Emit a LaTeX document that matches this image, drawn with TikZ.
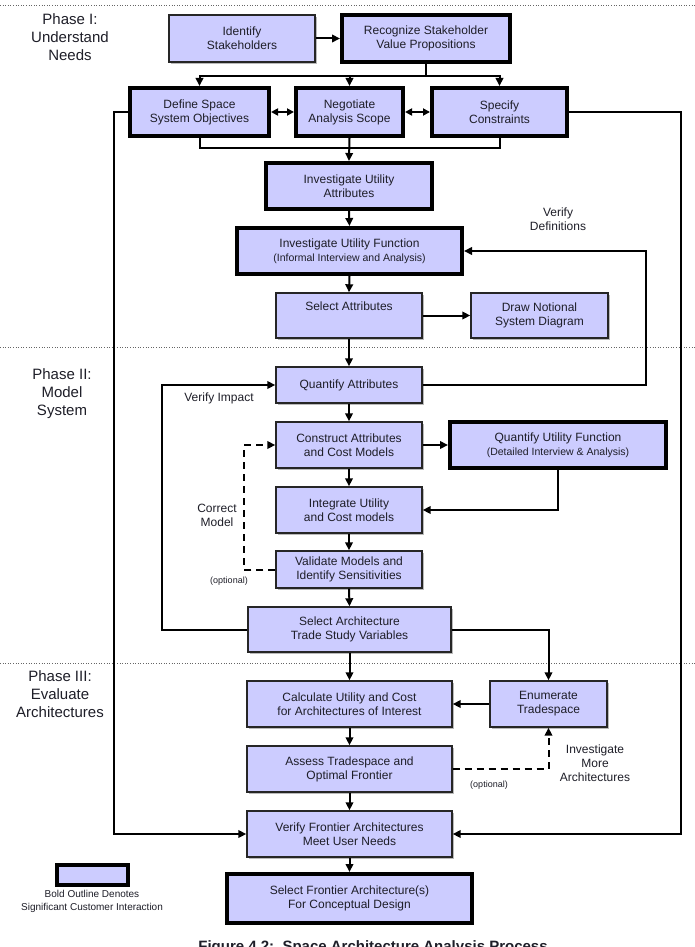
\documentclass[tikz,border=0pt]{standalone}
\usepackage{fontspec}
\setmainfont{Liberation Sans}
\usetikzlibrary{arrows.meta,shadows}
\definecolor{boxfill}{RGB}{204,204,255}
\definecolor{txtcol}{RGB}{30,30,40}
\tikzset{
  box/.style={draw=black!85, line width=1.4pt, fill=boxfill, align=center, text=txtcol,
    font=\fontsize{12}{14}\selectfont, inner sep=0pt,
    drop shadow={shadow xshift=1.8pt, shadow yshift=-1.8pt, fill=black!45, opacity=0.6}},
  bbox/.style={box, draw=black, line width=4pt},
  conn/.style={line width=2pt, -{Triangle[length=8pt,width=7.5pt]}},
  dconn/.style={line width=2pt, {Triangle[length=7pt,width=7pt]}-{Triangle[length=7pt,width=7pt]}},
  plain/.style={line width=2pt},
  dashline/.style={dash pattern=on 7pt off 5pt},
  lbl/.style={align=center, text=txtcol, font=\fontsize{12}{14}\selectfont, inner sep=0pt},
  phase/.style={align=center, text=txtcol, font=\fontsize{15}{18}\selectfont, inner sep=0pt},
  small/.style={align=center, text=txtcol, font=\fontsize{9}{11}\selectfont, inner sep=0pt},
  sep/.style={black!60, line width=0.6pt, dotted},
}
\newcommand{\sub}[1]{{\fontsize{10.5}{12}\selectfont #1}}
\begin{document}
\begin{tikzpicture}[x=1pt,y=-1pt]
\useasboundingbox (0,0) rectangle (695,947);
\fill[white] (0,0) rectangle (695,947);

% separators
\coordinate (s1a) at (0,5); \coordinate (s1b) at (695,5);
\coordinate (s2a) at (0,347); \coordinate (s2b) at (695,347);
\coordinate (s3a) at (0,663); \coordinate (s3b) at (695,663);
\draw[sep] (s1a) -- (s1b);
\draw[sep] (s2a) -- (s2b);
\draw[sep] (s3a) -- (s3b);

% phase labels
\node[phase] (ph1) at (70,37) {Phase I:\\Understand\\Needs};
\node[phase] (ph2) at (62,394) {Phase II:\\Model\\System};
\node[phase] (ph3) at (60,694) {Phase III:\\Evaluate\\Architectures};

% boxes
\node[box, minimum width=146pt, minimum height=47pt] (ident) at (242,38.5) {Identify\\Stakeholders};
\node[bbox, minimum width=168pt, minimum height=47pt] (recog) at (426,38.5) {Recognize Stakeholder\\Value Propositions};
\node[bbox, minimum width=139pt, minimum height=48pt] (define) at (199.5,112) {Define Space\\System Objectives};
\node[bbox, minimum width=107pt, minimum height=48pt] (negot) at (349.5,112) {Negotiate\\Analysis Scope};
\node[bbox, minimum width=135pt, minimum height=48pt] (specify) at (499.5,112) {Specify\\Constraints};
\node[bbox, minimum width=166pt, minimum height=46pt] (iua) at (349,186) {Investigate Utility\\Attributes};
\node[bbox, minimum width=225pt, minimum height=46pt] (iuf) at (349.5,251) {Investigate Utility Function\\\sub{(Informal Interview and Analysis)}};
\node[box, minimum width=146pt, minimum height=45pt] (selattr) at (349,315.5) {};
\node[lbl] (selattrt) at (349,306) {Select Attributes};
\node[box, minimum width=137pt, minimum height=45pt] (drawn) at (539.5,315.5) {Draw Notional\\System Diagram};
\node[box, minimum width=146pt, minimum height=36pt] (qattr) at (349,385) {Quantify Attributes};
\node[box, minimum width=146pt, minimum height=46pt] (constr) at (349,445) {Construct Attributes\\and Cost Models};
\node[bbox, minimum width=216pt, minimum height=46pt] (quf) at (558,445) {Quantify Utility Function\\\sub{(Detailed Interview \& Analysis)}};
\node[box, minimum width=146pt, minimum height=46pt] (integ) at (349,510) {Integrate Utility\\and Cost models};
\node[box, minimum width=146pt, minimum height=37pt] (valid) at (349,569.5) {Validate Models and\\Identify Sensitivities};
\node[box, minimum width=203pt, minimum height=45pt] (selarch) at (349.5,629.5) {Select Architecture\\Trade Study Variables};
\node[box, minimum width=205pt, minimum height=46pt] (calc) at (349.5,704) {Calculate Utility and Cost\\for Architectures of Interest};
\node[box, minimum width=117pt, minimum height=46pt] (enum) at (548.5,704) {Enumerate\\Tradespace};
\node[box, minimum width=205pt, minimum height=46pt] (assess) at (349.5,769) {Assess Tradespace and\\Optimal Frontier};
\node[box, minimum width=205pt, minimum height=46pt] (verify) at (349.5,834) {Verify Frontier Architectures\\Meet User Needs};
\node[bbox, minimum width=245pt, minimum height=49pt] (selfront) at (349.5,898.5) {Select Frontier Architecture(s)\\For Conceptual Design};

% legend
\node[bbox, minimum width=71pt, minimum height=20pt] (legbox) at (92.5,875) {};
\node[align=center, text=txtcol, font=\fontsize{10}{13}\selectfont, inner sep=0pt] (legtxt) at (92,901.5) {Bold Outline Denotes\\Significant Customer Interaction};

% labels
\node[lbl] (vdef) at (558,219) {Verify\\Definitions};
\node[lbl] (vimp) at (219,398) {Verify Impact};
\node[lbl] (cmod) at (217,515) {Correct\\Model};
\node[small] (opt1) at (229,581) {(optional)};
\node[small] (opt2) at (489,785) {(optional)};
\node[lbl] (invm) at (595,763) {Investigate\\More\\Architectures};
\node[anchor=base, text=txtcol, font=\bfseries\fontsize{15}{18}\selectfont, inner sep=0pt] (cap) at (373,951) {Figure 4.2:\ \ Space Architecture Analysis Process};

% coordinates
\coordinate (rj) at (426,76);
\coordinate (bj) at (349.5,148);
\coordinate (vd1) at (646,385);
\coordinate (vd2) at (646,251);
\coordinate (vi1) at (162,629.5);
\coordinate (vi2) at (162,385);
\coordinate (cm1) at (244,569.5);
\coordinate (cm2) at (244,445);
\coordinate (ll1) at (114,112);
\coordinate (ll2) at (114,834);
\coordinate (rl1) at (681,112);
\coordinate (rl2) at (681,834);

% connectors
\draw[conn] (ident.east) -- (recog.west);
\draw[plain] (recog.south) -- (rj);
\draw[conn] (rj) -| (define.north);
\draw[conn] (rj) -| (specify.north);
\draw[conn] (negot.north |- rj) -- (negot.north);
\draw[dconn] (define.east) -- (negot.west);
\draw[dconn] (negot.east) -- (specify.west);
\draw[plain] (define.south) |- (bj) -| (specify.south);
\draw[conn] (negot.south) -- (iua.north);
\draw[conn] (iua.south) -- (iuf.north);
\draw[conn] (iuf.south) -- (selattr.north);
\draw[conn] (selattr.east) -- (drawn.west);
\draw[conn] (selattr.south) -- (qattr.north);
\draw[conn] (qattr.south) -- (constr.north);
\draw[conn] (constr.east) -- (quf.west);
\draw[conn] (quf.south) |- (integ.east);
\draw[conn] (constr.south) -- (integ.north);
\draw[conn] (integ.south) -- (valid.north);
\draw[conn] (valid.south) -- (selarch.north);
\draw[conn] (selarch.south) -- (calc.north);
\draw[conn] (selarch.east) -| (enum.north);
\draw[conn] (enum.west) -- (calc.east);
\draw[conn] (calc.south) -- (assess.north);
\draw[conn] (assess.south) -- (verify.north);
\draw[conn] (verify.south) -- (selfront.north);
\draw[conn] (qattr.east) -- (vd1) -- (vd2) -- (iuf.east);
\draw[conn] (selarch.west) -- (vi1) -- (vi2) -- (qattr.west);
\draw[conn, dashline] (valid.west) -- (cm1) -- (cm2) -- (constr.west);
\draw[conn, dashline] (assess.east) -| (enum.south);
\draw[conn] (define.west) -- (ll1) -- (ll2) -- (verify.west);
\draw[conn] (specify.east) -- (rl1) -- (rl2) -- (verify.east);
\end{tikzpicture}
\end{document}
